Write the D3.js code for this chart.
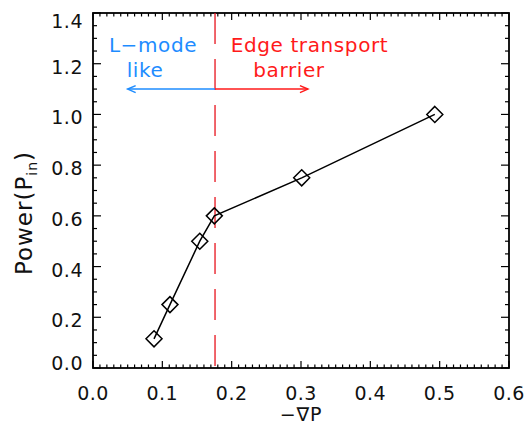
<!DOCTYPE html>
<html>
<head>
<meta charset="utf-8">
<script src="https://cdn.jsdelivr.net/npm/d3@7"></script>
<style>
  html, body { margin: 0; padding: 0; background: #fff; }
  svg { display: block; }
  text { font-family: "DejaVu Sans", sans-serif; }
</style>
</head>
<body>
<svg id="chart" width="527" height="430"></svg>
<script>
// Pressure gradient vs. input power
const gradP = [0.088, 0.111, 0.154, 0.175, 0.301, 0.493];
const power = [0.115, 0.25, 0.5, 0.6, 0.75, 1.0];

const xTicks = [0.0, 0.1, 0.2, 0.3, 0.4, 0.5, 0.6];
const yTicks = [0.0, 0.2, 0.4, 0.6, 0.8, 1.0, 1.2, 1.4];

// regime boundary and arrow extents (data units)
const boundaryX = 0.176;
const arrowY = 1.1;
const arrowLeftX = 0.05;
const arrowRightX = 0.31;

const W = 527, H = 430;
const m = { left: 93, right: 18, top: 13, bottom: 62 };

const svg = d3.select("#chart");
const x = d3.scaleLinear().domain([0, 0.6]).range([m.left, W - m.right]);
const y = d3.scaleLinear().domain([0, 1.4]).range([H - m.bottom, m.top]);

const x0 = x.range()[0], x1 = x.range()[1];
const y0 = y.range()[0], y1 = y.range()[1];

// minor ticks
const xMinor = d3.range(0, 61).map(i => i / 100);
const yMinor = d3.range(0, 29).map(i => i * 0.05);

const axes = svg.append("g").attr("stroke", "#000").attr("stroke-width", 1.2);
xMinor.forEach(v => {
  const major = Math.abs(v * 10 - Math.round(v * 10)) < 1e-6;
  const len = major ? 7 : 3.5;
  axes.append("line").attr("x1", x(v)).attr("x2", x(v)).attr("y1", y0).attr("y2", y0 - len);
  axes.append("line").attr("x1", x(v)).attr("x2", x(v)).attr("y1", y1).attr("y2", y1 + len);
});
yMinor.forEach(v => {
  const major = Math.abs(v * 5 - Math.round(v * 5)) < 1e-6;
  const len = major ? 8 : 4;
  axes.append("line").attr("y1", y(v)).attr("y2", y(v)).attr("x1", x0).attr("x2", x0 + len);
  axes.append("line").attr("y1", y(v)).attr("y2", y(v)).attr("x1", x1).attr("x2", x1 - len);
});
svg.append("rect")
  .attr("x", x0).attr("y", y1).attr("width", x1 - x0).attr("height", y0 - y1)
  .attr("fill", "none").attr("stroke", "#000").attr("stroke-width", 1.8);

// tick labels
const fs = 19;
svg.append("g").selectAll("text").data(xTicks).join("text")
  .attr("x", d => x(d)).attr("y", 400)
  .attr("text-anchor", "middle").attr("font-size", fs).attr("fill", "#111")
  .attr("letter-spacing", 0.5)
  .text(d => d.toFixed(1));

svg.append("g").selectAll("text").data(yTicks).join("text")
  .attr("x", x0 - 10)
  .attr("y", (d, i) => y(d) + 3 + (i === 0 ? -8 : 0) + (i === yTicks.length - 1 ? 5 : 0))
  .attr("dominant-baseline", "central")
  .attr("text-anchor", "end").attr("font-size", fs).attr("fill", "#111")
  .attr("letter-spacing", 0.5)
  .text(d => d.toFixed(1));

// axis titles
svg.append("text")
  .attr("x", 301).attr("y", 421)
  .attr("text-anchor", "middle").attr("font-size", 19).attr("fill", "#111")
  .attr("letter-spacing", 0.8)
  .text("\u2212\u2207P");

const yt = svg.append("text")
  .attr("transform", "translate(32,213) rotate(-90)")
  .attr("text-anchor", "middle").attr("font-size", 23).attr("fill", "#111")
  .attr("letter-spacing", 1);
yt.append("tspan").text("Power(P");
yt.append("tspan").attr("font-size", 14).attr("dy", 5).text("in");
yt.append("tspan").attr("dy", -5).text(")");

// regime boundary
svg.append("line")
  .attr("x1", x(boundaryX)).attr("x2", x(boundaryX))
  .attr("y1", y1).attr("y2", y0)
  .attr("stroke", "#e8141e").attr("stroke-width", 1.3)
  .attr("stroke-dasharray", "31 15");

// regime arrows
const blue = "#1e8cff", red = "#ff1a1a";
function arrow(xa, xb, color) {
  const g = svg.append("g").attr("stroke", color).attr("stroke-width", 1.5).attr("fill", "none");
  g.append("line").attr("x1", x(xa)).attr("x2", x(xb)).attr("y1", y(arrowY)).attr("y2", y(arrowY));
  const dir = xb > xa ? 1 : -1;
  const tx = x(xb), ty = y(arrowY);
  g.append("path").attr("d", `M${tx - dir * 8},${ty - 3.5} L${tx},${ty} L${tx - dir * 8},${ty + 3.5}`);
}
arrow(boundaryX, arrowLeftX, blue);
arrow(boundaryX, arrowRightX, red);

const lab = svg.append("g").attr("font-size", 20).attr("text-anchor", "middle")
  .attr("letter-spacing", 0.6);
lab.append("text").attr("x", 153).attr("y", 52).attr("fill", blue).text("L\u2212mode");
lab.append("text").attr("x", 145).attr("y", 77).attr("fill", blue).text("like");
lab.append("text").attr("x", 309.5).attr("y", 52).attr("fill", red).text("Edge transport");
lab.append("text").attr("x", 289).attr("y", 77).attr("fill", red).text("barrier");

// data line and diamond markers
const pts = gradP.map((g, i) => [g, power[i]]);
svg.append("path")
  .datum(pts)
  .attr("d", d3.line().x(d => x(d[0])).y(d => y(d[1])))
  .attr("fill", "none").attr("stroke", "#000").attr("stroke-width", 1.5);

const r = 8;
svg.append("g").selectAll("path").data(pts).join("path")
  .attr("d", d => {
    const cx = x(d[0]), cy = y(d[1]);
    return `M${cx},${cy - r} L${cx + r},${cy} L${cx},${cy + r} L${cx - r},${cy} Z`;
  })
  .attr("fill", "none").attr("stroke", "#000").attr("stroke-width", 1.5);
</script>
</body>
</html>
